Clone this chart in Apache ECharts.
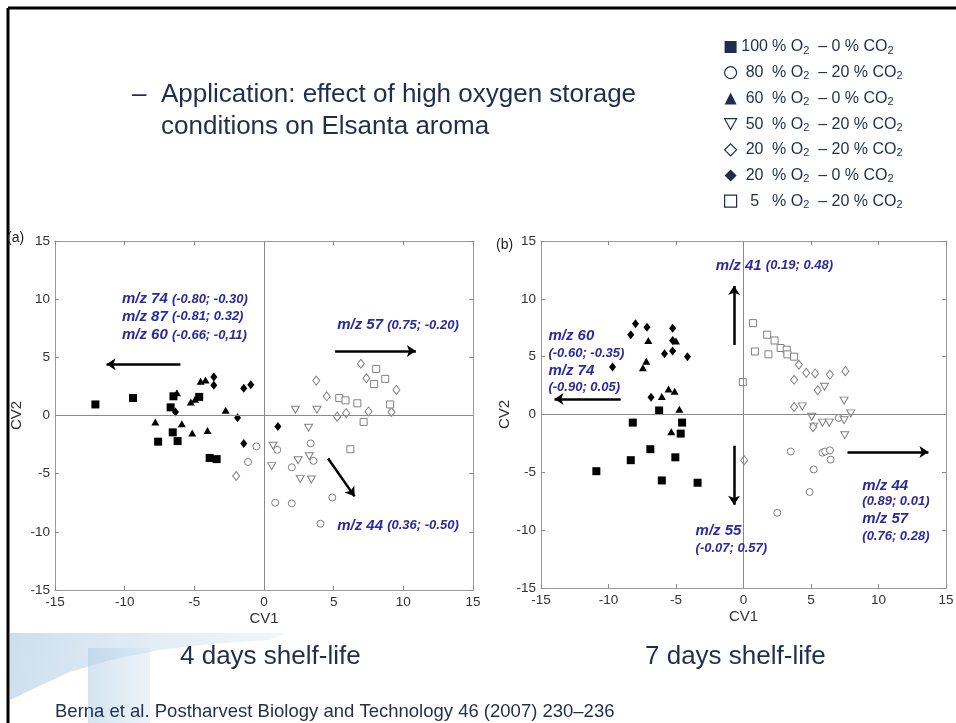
<!DOCTYPE html>
<html>
<head>
<meta charset="utf-8">
<script src="https://cdn.jsdelivr.net/npm/echarts@6/dist/echarts.min.js"></script>
<style>
  html, body { margin: 0; padding: 0; background: #fff; }
  #main { width: 956px; height: 723px; }
</style>
</head>
<body>
<div id="main"></div>
<script>
// storage conditions (legend order)
const conditions = ['c100_0', 'c80_20', 'c60_0', 'c50_20', 'c20_20', 'c20_0', 'c5_20'];
const condO2 = ['100', '80', '60', '50', '20', '20', '5'];
const condCO2 = ['0', '20', '0', '20', '20', '0', '20'];

// (a) 4 days shelf-life, [CV1, CV2]
const a100_0 = [[-12.1, 0.95], [-9.4, 1.5], [-6.5, 1.65], [-6.7, 0.7], [-4.65, 1.6], [-6.55, -1.45], [-7.6, -2.25], [-6.2, -2.2], [-3.9, -3.65], [-3.4, -3.75]];
const a80_20 = [[-0.55, -2.65], [-1.15, -4.0], [0.95, -2.95], [3.35, -2.4], [2.0, -4.45], [3.55, -3.9], [4.9, -7.05], [0.8, -7.5], [2.0, -7.55], [4.05, -9.3]];
const a60_0 = [[-6.25, 1.95], [-7.8, -0.55], [-5.9, -0.7], [-5.15, -1.5], [-4.05, -1.3], [-2.75, 0.45], [-5.25, 1.15], [-4.95, 1.4], [-4.55, 2.95], [-4.2, 3.05]];
const a50_20 = [[2.25, 0.5], [3.8, 0.5], [3.2, -1.05], [0.65, -2.6], [0.55, -4.35], [2.45, -3.85], [3.25, -3.5], [2.6, -5.45], [3.4, -5.5]];
const a20_20 = [[3.75, 3.0], [6.95, 4.45], [7.35, 3.2], [4.5, 1.65], [9.5, 2.2], [5.25, -0.1], [5.9, 0.2], [7.5, 0.35], [9.15, 0.3], [-2.0, -5.2]];
const a20_0 = [[-3.6, 3.3], [-3.6, 2.6], [-1.45, 2.35], [-0.95, 2.65], [-1.9, -0.2], [1.0, -0.95], [-1.45, -2.4], [-6.35, 0.3]];
const a5_20 = [[8.05, 4.0], [8.7, 3.15], [7.9, 2.7], [5.4, 1.5], [5.85, 1.3], [6.7, 1.05], [9.05, 0.95], [7.15, -0.55], [6.2, -2.9]];

// (b) 7 days shelf-life
const b100_0 = [[-6.25, 0.35], [-8.2, -0.7], [-4.55, -0.7], [-4.65, -1.65], [-6.9, -3.0], [-8.35, -3.95], [-5.05, -3.7], [-10.9, -4.9], [-6.05, -5.7], [-3.4, -5.9]];
const b80_20 = [[7.05, -0.3], [3.5, -3.2], [5.85, -3.3], [6.05, -3.2], [6.4, -3.1], [6.45, -3.9], [5.2, -4.75], [4.9, -6.7], [2.5, -8.5]];
const b60_0 = [[-7.05, 6.4], [-7.2, 4.6], [-7.45, 4.05], [-5.0, 6.35], [-5.55, 2.2], [-5.1, 2.0], [-6.05, 1.55], [-4.75, 0.45], [-5.35, -1.5]];
const b50_20 = [[6.0, 2.4], [4.35, 0.7], [7.45, 1.2], [5.05, -0.2], [5.85, -0.7], [6.35, -0.7], [7.45, -0.5], [7.95, 0.1], [7.5, -1.8], [5.2, -1.05]];
const b20_20 = [[4.1, 4.3], [4.65, 3.6], [5.3, 3.55], [6.4, 3.45], [7.55, 3.75], [3.75, 3.0], [5.5, 2.1], [3.75, 0.65], [5.15, -1.1], [0.05, -3.95]];
const b20_0 = [[-9.7, 4.1], [-8.35, 6.9], [-8.0, 7.85], [-7.15, 7.55], [-5.25, 7.45], [-5.25, 6.4], [-5.25, 5.5], [-5.85, 5.25], [-4.15, 5.0], [-6.85, 1.5]];
const b5_20 = [[0.7, 7.9], [0.85, 5.45], [1.75, 6.9], [1.85, 5.2], [2.3, 6.4], [2.75, 5.75], [3.2, 5.6], [3.25, 5.2], [3.75, 5.0], [-0.05, 2.8]];

// loading arrows (from, to) in CV space
const arrowsA = [[[-6.0, 4.4], [-11.3, 4.4]], [[5.1, 5.55], [10.9, 5.55]], [[4.6, -3.7], [6.5, -6.95]]];
const arrowsB = [[[-0.7, 6.0], [-0.7, 11.1]], [[-0.7, -2.7], [-0.7, -7.8]], [[-9.1, 1.35], [-14.0, 1.35]], [[7.7, -3.25], [13.7, -3.25]]];

// loading labels: [CV1, CV2, ion, loadings]
const notesA = [
  [-10.2, 10.0, 'm/z 74', '(-0.80; -0.30)'],
  [-10.2, 8.5, 'm/z 87', '(-0.81; 0.32)'],
  [-10.2, 6.9, 'm/z 60', '(-0.66; -0,11)'],
  [5.25, 7.75, 'm/z 57', '(0.75; -0.20)'],
  [5.25, -9.45, 'm/z 44', '(0.36; -0.50)']
];
const notesB = [
  [-2.05, 12.85, 'm/z 41', '(0.19; 0.48)'],
  [-14.45, 6.8, 'm/z 60', ''],
  [-14.45, 5.3, '', '(-0.60; -0.35)'],
  [-14.45, 3.8, 'm/z 74', ''],
  [-14.45, 2.35, '', '(-0.90; 0.05)'],
  [-3.55, -10.1, 'm/z 55', ''],
  [-3.55, -11.6, '', '(-0.07; 0.57)'],
  [8.8, -6.15, 'm/z 44', ''],
  [8.8, -7.55, '', '(0.89; 0.01)'],
  [8.8, -9.05, 'm/z 57', ''],
  [8.8, -10.5, '', '(0.76; 0.28)']
];

const dataA = [a100_0, a80_20, a60_0, a50_20, a20_20, a20_0, a5_20];
const dataB = [b100_0, b80_20, b60_0, b50_20, b20_20, b20_0, b5_20];

const FONT = '"Liberation Sans", Arial, sans-serif';
const NAVY = '#1f2d50';
const NOTE = '#2a2aa0';
const downTri = 'path://M0,0L10,0L5,9Z';

const markers = [
  { symbol: 'rect', symbolSize: 8, filled: true },
  { symbol: 'circle', symbolSize: 7, filled: false },
  { symbol: 'triangle', symbolSize: [8, 7], filled: true },
  { symbol: downTri, symbolSize: [8, 7], filled: false },
  { symbol: 'diamond', symbolSize: [7, 9], filled: false },
  { symbol: 'diamond', symbolSize: [7, 9], filled: true },
  { symbol: 'rect', symbolSize: 7, filled: false }
];

const chart = echarts.init(document.getElementById('main'), null, { renderer: 'canvas' });

function pointSeries(data, idx, g) {
  const m = markers[idx];
  return {
    type: 'scatter',
    name: conditions[idx],
    xAxisIndex: g * 2,
    yAxisIndex: g * 2,
    symbol: m.symbol,
    symbolSize: m.symbolSize,
    itemStyle: m.filled
      ? { color: '#000', opacity: 1 }
      : { color: '#fff', borderColor: '#808080', borderWidth: 1, opacity: 1 },
    emphasis: { disabled: true },
    z: 3,
    data: data
  };
}

function arrowSeries(arrows, g) {
  return {
    type: 'lines',
    coordinateSystem: 'cartesian2d',
    xAxisIndex: g * 2,
    yAxisIndex: g * 2,
    symbol: ['none', 'arrow'],
    symbolSize: 9,
    lineStyle: { color: '#000', width: 2.5, opacity: 1 },
    silent: true,
    z: 4,
    data: arrows.map(a => ({ coords: a }))
  };
}

function noteSeries(notes, g) {
  return {
    type: 'scatter',
    xAxisIndex: g * 2,
    yAxisIndex: g * 2,
    symbolSize: 0,
    silent: true,
    z: 5,
    itemStyle: { opacity: 1 },
    label: {
      show: true,
      position: 'right',
      distance: 0,
      formatter: p => {
        const d = p.data;
        let s = '';
        if (d.head) s += '{m|' + d.head + '}';
        if (d.head && d.tail) s += '{m| }';
        if (d.tail) s += '{v|' + d.tail + '}';
        return s;
      },
      rich: {
        m: { fontFamily: FONT, fontSize: 15, fontWeight: 'bold', fontStyle: 'italic', color: NOTE },
        v: { fontFamily: FONT, fontSize: 13, fontWeight: 'bold', fontStyle: 'italic', color: NOTE }
      }
    },
    data: notes.map(n => ({ value: [n[0], n[1]], head: n[2], tail: n[3] }))
  };
}

function zeroLines(g) {
  return {
    type: 'scatter',
    xAxisIndex: g * 2,
    yAxisIndex: g * 2,
    data: [],
    markLine: {
      silent: true,
      symbol: 'none',
      label: { show: false },
      lineStyle: { color: '#8a8a8a', width: 1, type: 'solid', opacity: 1 },
      data: [{ xAxis: 0 }, { yAxis: 0 }]
    }
  };
}

function xAx(g, pos, nameGap) {
  const main = pos === 'bottom';
  return {
    gridIndex: g, type: 'value', position: pos,
    min: -15, max: 15, interval: 5,
    name: main ? 'CV1' : '', nameLocation: 'middle', nameGap: nameGap,
    nameTextStyle: { fontFamily: FONT, fontSize: 15, color: '#333' },
    axisLine: { show: true, onZero: false, lineStyle: { color: '#9a9a9a' } },
    axisTick: { show: true, inside: true, length: 4, lineStyle: { color: '#8a8a8a' } },
    axisLabel: { show: main, fontFamily: FONT, fontSize: 13.5, color: '#333', margin: 5 },
    splitLine: { show: false }
  };
}

function yAx(g, pos, nameGap) {
  const main = pos === 'left';
  return {
    gridIndex: g, type: 'value', position: pos,
    min: -15, max: 15, interval: 5,
    name: main ? 'CV2' : '', nameLocation: 'middle', nameGap: nameGap,
    nameTextStyle: { fontFamily: FONT, fontSize: 15, color: '#333' },
    axisLine: { show: true, onZero: false, lineStyle: { color: '#9a9a9a' } },
    axisTick: { show: true, inside: true, length: 4, lineStyle: { color: '#8a8a8a' } },
    axisLabel: { show: main, fontFamily: FONT, fontSize: 13.5, color: '#333', margin: 5 },
    splitLine: { show: false }
  };
}

const series = [];
dataA.forEach((d, i) => series.push(pointSeries(d, i, 0)));
dataB.forEach((d, i) => series.push(pointSeries(d, i, 1)));
series.push(zeroLines(0), zeroLines(1));
series.push(arrowSeries(arrowsA, 0), arrowSeries(arrowsB, 1));
series.push(noteSeries(notesA, 0), noteSeries(notesB, 1));

const legendData = conditions.map((c, i) => {
  const m = markers[i];
  return {
    name: c,
    icon: m.symbol,
    itemStyle: m.filled
      ? { color: NAVY, borderWidth: 0, opacity: 1 }
      : { color: '#fff', borderColor: NAVY, borderWidth: 1.2, opacity: 1 }
  };
});

const txt = (x, y, text, size, extra) => ({
  type: 'text', x: x, y: y, silent: true,
  style: Object.assign({ text: text, fontFamily: FONT, fontSize: size, fill: NAVY, verticalAlign: 'middle' }, extra || {})
});

const option = {
  backgroundColor: '#fff',
  animation: false,
  grid: [
    { left: 55, top: 241, width: 418, height: 349, outerBoundsMode: 'none' },
    { left: 541, top: 241, width: 405, height: 347, outerBoundsMode: 'none' }
  ],
  xAxis: [xAx(0, 'bottom', 21.5), xAx(0, 'top', 0), xAx(1, 'bottom', 21.5), xAx(1, 'top', 0)],
  yAxis: [yAx(0, 'left', 30.5), yAx(0, 'right', 0), yAx(1, 'left', 23.5), yAx(1, 'right', 0)],
  legend: {
    orient: 'vertical',
    left: 719, top: 34,
    itemWidth: 12, itemHeight: 12, itemGap: 8.7,
    selectedMode: false,
    data: legendData,
    formatter: name => {
      const i = conditions.indexOf(name);
      return '{n|' + condO2[i] + '}{t| % O}{s|2}{t|  – ' + condCO2[i] + ' % CO}{s|2}';
    },
    textStyle: {
      rich: {
        n: { fontFamily: FONT, fontSize: 16, color: NAVY, width: 26, align: 'right', lineHeight: 18 },
        t: { fontFamily: FONT, fontSize: 16, color: NAVY, lineHeight: 18 },
        s: { fontFamily: FONT, fontSize: 11, color: NAVY, lineHeight: 10, verticalAlign: 'bottom' }
      }
    }
  },
  graphic: [
    // slide frame
    { type: 'line', silent: true, shape: { x1: 8, y1: 8, x2: 956, y2: 8 }, style: { stroke: '#000', lineWidth: 3 } },
    { type: 'line', silent: true, shape: { x1: 8, y1: 8, x2: 8, y2: 723 }, style: { stroke: '#000', lineWidth: 3 } },
    // faint logo watermark
    { type: 'polygon', silent: true, z: -1,
      shape: { points: [[10, 633], [285, 633], [270, 640], [210, 644], [160, 650], [110, 660], [70, 672], [35, 688], [10, 700]] },
      style: { fill: new echarts.graphic.LinearGradient(0, 0, 1, 1, [{ offset: 0, color: 'rgba(170,200,225,0.6)' }, { offset: 1, color: 'rgba(210,228,240,0.3)' }]) } },
    { type: 'rect', silent: true, z: -1, shape: { x: 88, y: 648, width: 62, height: 80 },
      style: { fill: new echarts.graphic.LinearGradient(0, 0, 1, 0, [{ offset: 0, color: 'rgba(175,205,228,0.55)' }, { offset: 1, color: 'rgba(205,225,240,0.4)' }]) } },
    // title
    txt(132, 95, '–', 26),
    txt(161, 95, 'Application: effect of high oxygen storage', 26),
    txt(161, 127, 'conditions on Elsanta aroma', 26),
    // panel tags
    txt(7, 238, '(a)', 14, { fill: '#222' }),
    txt(496, 245, '(b)', 14, { fill: '#222' }),
    // captions
    txt(180, 657, '4 days shelf-life', 26),
    txt(645, 657, '7 days shelf-life', 26),
    txt(55, 712, 'Berna et al. Postharvest Biology and Technology 46 (2007) 230–236', 18.5)
  ],
  series: series
};

chart.setOption(option);
</script>
</body>
</html>
